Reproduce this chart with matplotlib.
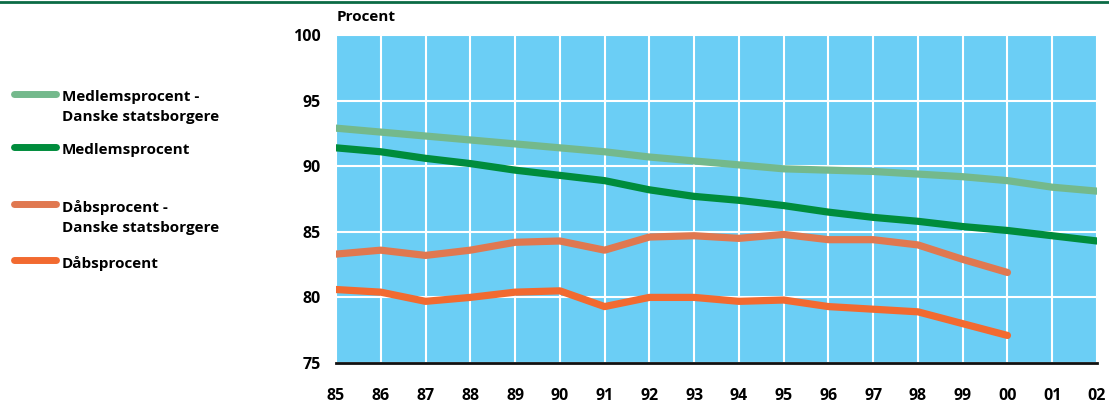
import numpy as np
import matplotlib
matplotlib.use("Agg")
import matplotlib.pyplot as plt
from matplotlib.lines import Line2D

# Data
years = np.arange(85, 103)
year_labels = ["85", "86", "87", "88", "89", "90", "91", "92", "93", "94",
               "95", "96", "97", "98", "99", "00", "01", "02"]

medlem_dk = [92.9, 92.6, 92.3, 92.0, 91.7, 91.4, 91.1, 90.7, 90.4, 90.1,
             89.8, 89.7, 89.6, 89.4, 89.2, 88.9, 88.4, 88.1]
medlem = [91.4, 91.1, 90.6, 90.2, 89.7, 89.3, 88.9, 88.2, 87.7, 87.4,
          87.0, 86.5, 86.1, 85.8, 85.4, 85.1, 84.7, 84.3]
daab_dk = [83.3, 83.6, 83.2, 83.6, 84.2, 84.3, 83.6, 84.6, 84.7, 84.5,
           84.8, 84.4, 84.4, 84.0, 82.9, 81.9]
daab = [80.6, 80.4, 79.7, 80.0, 80.4, 80.5, 79.3, 80.0, 80.0, 79.7,
        79.8, 79.3, 79.1, 78.9, 78.0, 77.1]

labels = ["Medlemsprocent -\nDanske statsborgere", "Medlemsprocent",
          "Dåbsprocent -\nDanske statsborgere", "Dåbsprocent"]
colors = ["#74b98c", "#008c3c", "#e07850", "#f26a30"]

plt.rcParams['font.family'] = ['Open Sans', 'DejaVu Sans']
plt.rcParams['font.weight'] = 'bold'

fig = plt.figure(figsize=(11.09, 4.05), dpi=100)
ax = fig.add_axes([336 / 1109, 1 - 363 / 405, (1097 - 336) / 1109, (363 - 35) / 405])
ax.set_facecolor("#6bcef5")

series = [medlem_dk, medlem, daab_dk, daab]
for vals, c in zip(series, colors):
    ax.plot(years[:len(vals)], vals, color=c, lw=5.2,
            solid_capstyle="round", solid_joinstyle="round", zorder=3)

ax.set_xlim(85, 102)
ax.set_ylim(75, 100)
ax.set_xticks(years)
ax.set_xticklabels(year_labels)
ax.set_yticks([75, 80, 85, 90, 95, 100])
ax.grid(True, color="white", lw=1.5, zorder=1)
ax.set_axisbelow(True)
ax.tick_params(length=0, labelsize=11.5)
ax.tick_params(axis="x", pad=18)
ax.tick_params(axis="y", pad=11)
for s in ["top", "right", "left"]:
    ax.spines[s].set_visible(False)
ax.spines["bottom"].set_color("#111111")
ax.spines["bottom"].set_linewidth(2)
ax.spines["bottom"].set_zorder(4)
for t in ax.get_xticklabels() + ax.get_yticklabels():
    t.set_fontweight("bold")

fig.text(337 / 1109, 1 - 17 / 405, "Procent", fontsize=11, fontweight="bold",
         ha="left", va="center")

# top rule
fig.add_artist(Line2D([0, 1], [1 - 1.5 / 405, 1 - 1.5 / 405], color="#0b6b45", lw=2))

# legend
leg_y = [94, 147, 204, 260]
for lab, c, y in zip(labels, colors, leg_y):
    yf = 1 - y / 405
    fig.add_artist(Line2D([14 / 1109, 56 / 1109], [yf, yf], color=c, lw=5,
                          solid_capstyle="round"))
    fig.text(62 / 1109, yf + 4 / 405, lab, fontsize=11, fontweight="bold",
             ha="left", va="top", linespacing=1.55)

fig.savefig("out.png", dpi=100)
